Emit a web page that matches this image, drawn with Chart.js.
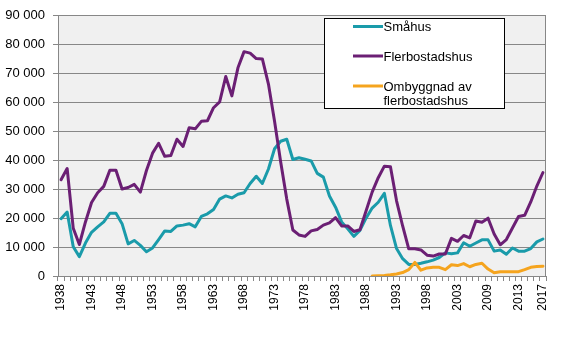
<!DOCTYPE html>
<html>
<head>
<meta charset="utf-8">
<script src="https://cdn.jsdelivr.net/npm/chart.js@4.4.1/dist/chart.umd.min.js"></script>
<style>
html,body{margin:0;padding:0;background:#fff;}
#wrap{width:565px;height:344px;position:relative;}
</style>
</head>
<body>
<div id="wrap"><canvas id="c" width="565" height="344"></canvas></div>
<script>
const years = [1938,1939,1940,1941,1942,1943,1944,1945,1946,1947,1948,1949,1950,1951,1952,1953,1954,1955,1956,1957,
1958,1959,1960,1961,1962,1963,1964,1965,1966,1967,1968,1969,1970,1971,1972,1973,1974,1975,1976,1977,
1978,1979,1980,1981,1982,1983,1984,1985,1986,1987,1988,1989,1990,1991,1992,1993,1994,1995,1996,1997,
1998,1999,2000,2001,2002,2003,2004,2005,2006,2007,2008,2009,2010,2011,2012,2013,2014,2015,2016,2017];

const smahus = [19800,22100,10100,6700,11400,15100,17000,18700,21700,21700,18100,11100,12300,10600,8400,9700,12600,15600,15400,17300,
17600,18100,17000,20600,21500,23000,26600,27700,27000,28300,28800,32000,34500,32000,37000,44000,46600,47300,40300,40900,
40400,39800,35500,34200,27700,23800,18700,16300,13700,15800,20000,23500,25500,28600,17500,9500,6000,4000,4000,4400,
4900,5500,6400,8000,7700,8000,11500,10300,11400,12500,12500,8600,9000,7500,9700,8600,8600,9500,11800,12800];

const flerbostadshus = [33300,37200,16500,10900,18700,25400,28800,31000,36600,36600,30100,30600,31700,29000,36500,42500,45900,41400,41700,47300,
44800,51300,50900,53500,53700,58200,60200,69000,62300,72000,77600,77100,75200,75100,66400,53500,39500,26600,15900,14200,
13700,15600,16100,17600,18400,20200,17300,17300,15400,16000,22500,29000,34000,38000,37800,26000,17300,9400,9400,9000,
7200,6900,7600,7600,13000,12000,14000,13200,19000,18600,20000,14500,10800,12600,16600,20600,21000,25600,31100,35800];

const ombyggnad = [null,null,null,null,null,null,null,null,null,null,null,null,null,null,null,null,null,null,null,null,
null,null,null,null,null,null,null,null,null,null,null,null,null,null,null,null,null,null,null,null,
null,null,null,null,null,null,null,null,null,null,null,0,100,200,400,700,1200,2200,4700,2000,
2800,3000,3000,2200,3900,3600,4300,3200,4000,4400,2400,1100,1500,1500,1500,1500,2200,3000,3300,3400];

const seriesNames = ['Småhus','Flerbostadshus','Ombyggnad av flerbostadshus'];
const seriesColors = ['#1A9BAA','#6B1F74','#F5A41E'];

const labeledYears = [1938,1943,1948,1953,1958,1963,1968,1973,1978,1983,1988,1993,1998,2003,2008,2013,2017];
const tickLabels = ['1938','1943','1948','1953','1958','1963','1968','1973','1978','1983','1988','1993','1998','2003','2009','2013','2017'];

const yTicks = [0,10000,20000,30000,40000,50000,60000,70000,80000,90000];

function fmt(v){ return String(v).replace(/\B(?=(\d{3})+(?!\d))/g,' '); }

const GRID = '#878787';
const FONT = '"Liberation Sans", Arial, sans-serif';

const bgPlugin = {
  id:'bg',
  beforeDraw(chart){
    const a = chart.chartArea, ctx = chart.ctx;
    ctx.save();
    ctx.fillStyle = '#F0F0F0';
    ctx.fillRect(a.left, a.top, a.right-a.left, a.bottom-a.top);
    ctx.restore();
  },
  beforeDatasetsDraw(chart){
    const a = chart.chartArea, ctx = chart.ctx;
    ctx.save();
    ctx.strokeStyle = GRID; ctx.lineWidth = 1;
    ctx.beginPath();
    ctx.moveTo(Math.round(a.right)-0.5, a.top);
    ctx.lineTo(Math.round(a.right)-0.5, a.bottom);
    ctx.stroke();
    ctx.restore();
  }
};

const legendPlugin = {
  id:'customLegend',
  afterDraw(chart){
    const ctx = chart.ctx;
    const bx = 324.5, by = 18.5, bw = 180, bh = 90;
    ctx.save();
    ctx.fillStyle = '#fff';
    ctx.fillRect(bx, by, bw, bh);
    ctx.strokeStyle = '#000'; ctx.lineWidth = 1;
    ctx.strokeRect(bx, by, bw, bh);
    const rows = [26.5, 56, 86];
    ctx.font = '13px ' + FONT;
    ctx.textBaseline = 'alphabetic';
    ctx.textAlign = 'left';
    chart.data.datasets.forEach((ds, i) => {
      const y = rows[i];
      ctx.strokeStyle = ds.borderColor; ctx.lineWidth = 3; ctx.lineCap = 'butt';
      ctx.beginPath(); ctx.moveTo(353, y); ctx.lineTo(383, y); ctx.stroke();
      // word wrap
      const words = ds.label.split(' ');
      const lines = []; let cur = '';
      words.forEach(w => {
        const t = cur ? cur + ' ' + w : w;
        if (ctx.measureText(t).width > 118 && cur) { lines.push(cur); cur = w; } else cur = t;
      });
      lines.push(cur);
      ctx.fillStyle = '#000';
      lines.forEach((ln, j) => ctx.fillText(ln, 383.5, y + 4.6 + j*14.5));
    });
    ctx.restore();
  }
};

new Chart(document.getElementById('c'), {
  type:'line',
  data:{
    labels: years,
    datasets:[
      {label:seriesNames[0], data:smahus, borderColor:seriesColors[0], order:2},
      {label:seriesNames[1], data:flerbostadshus, borderColor:seriesColors[1], order:1},
      {label:seriesNames[2], data:ombyggnad, borderColor:seriesColors[2], order:0}
    ]
  },
  options:{
    responsive:false,
    animation:false,
    devicePixelRatio:1,
    layout:{padding:{top:8,right:19,left:0,bottom:0}},
    elements:{
      line:{borderWidth:3, tension:0, borderJoinStyle:'round', borderCapStyle:'round', fill:false},
      point:{radius:0, hoverRadius:0}
    },
    spanGaps:false,
    plugins:{legend:{display:false}, tooltip:{enabled:false}},
    scales:{
      x:{
        offset:true,
        grid:{display:true, offset:true, drawOnChartArea:false, drawTicks:true, tickLength:5, color:GRID},
        border:{display:true, color:GRID, width:1},
        ticks:{
          autoSkip:false, maxRotation:90, minRotation:90, padding:3,
          color:'#000', font:{family:FONT, size:12},
          callback:function(val, idx){
            const y = years[idx];
            const k = labeledYears.indexOf(y);
            return k >= 0 ? tickLabels[k] : '';
          }
        },
        afterFit(scale){ scale.height = 68; }
      },
      y:{
        min:0, max:90000,
        afterBuildTicks(scale){ scale.ticks = yTicks.map(v => ({value:v})); },
        grid:{color:GRID, lineWidth:1, drawTicks:true, tickLength:5},
        border:{display:true, color:GRID, width:1},
        ticks:{
          color:'#000', font:{family:FONT, size:13}, padding:8,
          callback:(v)=>fmt(v)
        },
        afterFit(scale){ scale.width = 58; }
      }
    }
  },
  plugins:[bgPlugin, legendPlugin]
});
</script>
</body>
</html>
